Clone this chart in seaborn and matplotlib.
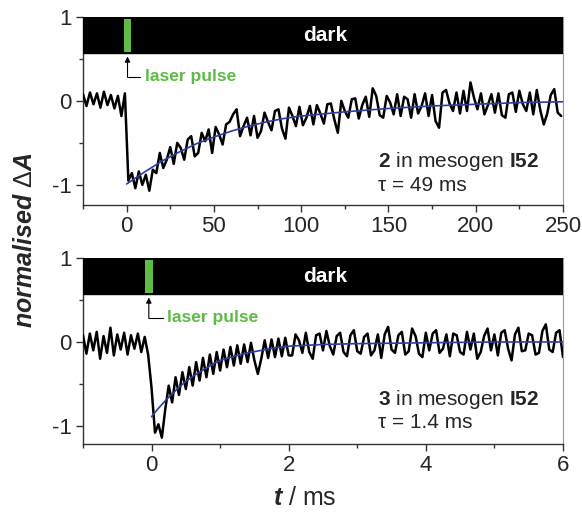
import numpy as np
import pandas as pd
import matplotlib
matplotlib.use("Agg")
import matplotlib.pyplot as plt
import seaborn as sns

# ---- data ----
# top panel: compound 2, sampled every 2 ms from -25 ms
dA_top = [
    0.08, -0.06, 0.10, -0.04, 0.09, -0.08, 0.11, -0.05, 0.07, -0.09, 0.06, -0.18,
    0.09,
    -0.95, -0.86, -1.04, -0.84, -1.00, -0.88, -1.07, -0.82,
    -0.86, -0.62, -0.80, -0.70, -0.55, -0.75, -0.50, -0.56, -0.70, -0.46,
    -0.42, -0.66, -0.62, -0.38, -0.48, -0.34, -0.62, -0.31, -0.40, -0.52,
    -0.28, -0.25, -0.16, -0.10, -0.42, -0.30, -0.20, -0.41, -0.18, -0.44,
    -0.36, -0.14, -0.25, -0.35, -0.12, -0.10, -0.33, -0.45, -0.08, -0.18,
    -0.30, -0.07, -0.29, -0.20, -0.06, -0.28, -0.05, -0.15, -0.27, -0.04,
    -0.03,
    -0.22, -0.38, 0.00, -0.12, -0.20, 0.02, 0.03, -0.21, -0.05, 0.05,
    -0.19, 0.15, 0.06, -0.17, -0.20, 0.06, -0.02, -0.16, 0.08, -0.18,
    0.05, 0.02, -0.20, 0.08, -0.15, -0.06, 0.09, -0.18, 0.07, -0.24,
    -0.32, 0.10, 0.13, -0.03, -0.12, 0.10, -0.15, 0.12, -0.12, 0.22,
    0.04, -0.10, 0.09, -0.16, -0.05, 0.08, -0.14, 0.09, -0.17, -0.20,
    0.08, 0.10, -0.13, 0.12, -0.04, -0.12, 0.10, -0.16, 0.13, -0.11,
    -0.28, -0.15, 0.07, 0.14, -0.14, -0.18,
]
t_top = -25 + 2 * np.arange(len(dA_top))

fit_t_top = [0, 10, 20, 30, 40, 50, 60, 70, 80, 90, 100, 125, 150, 175, 200, 225, 250]
fit_top = [-0.99, -0.85, -0.72, -0.61, -0.51, -0.43, -0.36, -0.30, -0.25,
           -0.21, -0.18, -0.13, -0.09, -0.06, -0.04, -0.02, -0.01]

# bottom panel: compound 3, sampled every 0.05 ms from -1 ms
dA_bot = [
    0.08, -0.14, 0.10, -0.10, 0.12, -0.20, 0.07, -0.13, 0.17, -0.16,
    0.09, -0.09, 0.11, -0.15, 0.08, -0.08, 0.10, -0.12, 0.06,
    -0.15, -0.55, -1.08, -0.98, -1.14,
    -0.80, -0.52, -0.72, -0.42, -0.63, -0.36, -0.56, -0.30, -0.52, -0.24,
    -0.46, -0.19, -0.42, -0.15, -0.38, -0.12, -0.34, -0.09, -0.30, -0.06,
    -0.28, -0.04, -0.26, -0.03, -0.24, -0.01, -0.22, -0.38, -0.20, 0.02,
    -0.19, 0.03, -0.18, 0.04, -0.17, 0.05, -0.16,
    -0.16, 0.09, 0.02, -0.13, 0.11, -0.12, -0.20, 0.08, 0.10, -0.10,
    0.13, -0.05, -0.15, 0.07, 0.11, -0.12, -0.17, 0.08, 0.14, -0.11,
    -0.14, 0.06, 0.10, -0.16, -0.10, 0.09, -0.19, 0.09, 0.18, -0.09,
    -0.13, 0.08, 0.12, -0.15, -0.11, 0.16, 0.07, -0.14, -0.18, 0.11,
    -0.10, 0.10, 0.14, -0.13, -0.08, 0.09, -0.17, 0.10, 0.08, -0.12,
    -0.15, 0.12, -0.09, 0.10, -0.20, -0.12, 0.07, 0.16, -0.10, 0.09,
    -0.16, 0.11, 0.14, -0.08, -0.22, 0.09, 0.17, -0.11, -0.10, 0.10,
    0.08, -0.15, -0.13, 0.13, 0.21, -0.09, -0.12, 0.11, 0.14, -0.18,
]
t_bot = -1 + 0.05 * np.arange(len(dA_bot))

fit_t_bot = [0, 0.1, 0.2, 0.3, 0.4, 0.5, 0.6, 0.7, 0.8, 0.9, 1.0, 1.2, 1.4,
             1.6, 1.8, 2.0, 2.5, 3.0, 4.0, 5.0, 6.0]
fit_bot = [-0.89, -0.79, -0.70, -0.62, -0.54, -0.47, -0.41, -0.36, -0.31,
           -0.26, -0.22, -0.17, -0.13, -0.10, -0.07, -0.05, -0.03, -0.02,
           -0.01, 0.00, 0.00]

labels = ["2", "3"]
taus = ["49 ms", "1.4 ms"]
xlims = [(-25, 250), (-1, 6)]
ylims = [(-1.24, 1.0), (-1.215, 1.0)]
xticks = [[0, 50, 100, 150, 200, 250], [0, 2, 4, 6]]
xminor = [[-25, 25, 75, 125, 175, 225], [-1, 1, 3, 5]]
pulse = [(-1.5, 2.5), (-0.1, 0.02)]
arrow_x = [0.5, -0.04]
arrow_end = [7.5, 0.16]
text_x = [10.3, 0.22]

# ---- style ----
sns.set_style("ticks")
plt.rcParams["font.family"] = ["Liberation Sans", "DejaVu Sans"]
plt.rcParams["axes.unicode_minus"] = False
plt.rcParams["mathtext.fontset"] = "custom"
plt.rcParams["mathtext.rm"] = "Liberation Sans"
plt.rcParams["mathtext.it"] = "Liberation Sans:italic"
plt.rcParams["mathtext.bf"] = "Liberation Sans:bold"
plt.rcParams["mathtext.bfit"] = "Liberation Sans:italic:bold"

green = "#5dbb46"
fig = plt.figure(figsize=(5.82, 5.13), dpi=100)
ax_top = fig.add_axes([0.1426, 0.6004, 0.8247, 0.3665])
ax_bot = fig.add_axes([0.1426, 0.1345, 0.8247, 0.3626])

traces = [(t_top, dA_top, fit_t_top, fit_top), (t_bot, dA_bot, fit_t_bot, fit_bot)]
label_y = [(0.229, 0.106), (0.237, 0.113)]
for i, ax in enumerate([ax_top, ax_bot]):
    t, y, ft, fy = traces[i]
    df = pd.DataFrame({"t": t, "dA": y})
    dfit = pd.DataFrame({"t": ft, "dA": fy})
    sns.lineplot(data=df, x="t", y="dA", ax=ax, color="black", lw=1.8,
                 estimator=None, sort=False, zorder=3)
    sns.lineplot(data=dfit, x="t", y="dA", ax=ax, color="#2c3e9e", lw=1.2,
                 estimator=None, sort=False, zorder=4)

    lo, hi = ylims[i]
    ax.set_xlim(*xlims[i])
    ax.set_ylim(lo, hi)
    ax.set_xlabel("")
    ax.set_ylabel("")

    # dark bar + laser pulse
    ax.axhspan(0.57, 1.0, color="black", zorder=5)
    ax.axvspan(pulse[i][0], pulse[i][1], ymin=(0.58 - lo) / (hi - lo),
               ymax=(0.975 - lo) / (hi - lo), color=green, zorder=6, lw=0)
    ax.text(0.504, (0.78 - lo) / (hi - lo), "dark", transform=ax.transAxes,
            color="white", fontsize=15, fontweight="bold",
            ha="center", va="center", zorder=7)

    ax.annotate("", xy=(arrow_x[i], 0.53), xytext=(arrow_x[i], 0.28),
                arrowprops=dict(arrowstyle="-|>", color="black", lw=0.8,
                                mutation_scale=8, shrinkA=0, shrinkB=0))
    ax.plot([arrow_x[i], arrow_end[i]], [0.28, 0.28], color="black", lw=0.8)
    ax.text(text_x[i], 0.29, "laser pulse", color=green, fontsize=12.5,
            fontweight="bold", ha="left", va="center")

    ax.text(0.615, label_y[i][0],
            r"$\mathbf{" + labels[i] + r"}$ in mesogen $\mathbf{I52}$",
            transform=ax.transAxes, fontsize=15, ha="left", va="center")
    ax.text(0.615, label_y[i][1], "\u03c4 = " + taus[i],
            transform=ax.transAxes, fontsize=15, ha="left", va="center")

    ax.set_xticks(xticks[i])
    ax.set_xticks(xminor[i], minor=True)
    ax.set_yticks([-1, 0, 1])
    ax.set_yticklabels(["-1", "0", "1"])
    ax.set_yticks([-0.5, 0.5], minor=True)
    ax.tick_params(axis="both", which="major", direction="out", length=5,
                   width=1, labelsize=16, color="#333333", pad=3)
    ax.tick_params(axis="both", which="minor", direction="out", length=3,
                   width=1, color="#333333")
    ax.tick_params(axis="y", which="both", right=False)
    for side in ["left", "bottom"]:
        ax.spines[side].set_color("#333333")
        ax.spines[side].set_linewidth(1.0)
    ax.spines["right"].set_visible(True)
    ax.spines["right"].set_color("#999999")
    ax.spines["right"].set_linewidth(0.8)
    ax.spines["top"].set_visible(False)

fig.text(0.043, 0.532, r"$\mathbfit{normalised}\ \mathrm{\Delta}\mathbfit{A}$",
         rotation=90, ha="center", va="center", fontsize=18)
fig.text(0.524, 0.030, r"$\mathbfit{t}$ / ms", ha="center", va="center", fontsize=18)

fig.savefig("out.png", dpi=100)
